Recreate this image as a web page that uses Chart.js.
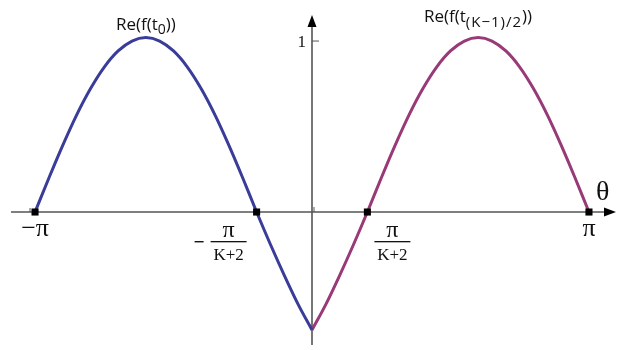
<!DOCTYPE html>
<html lang="en">
<head>
<meta charset="UTF-8">
<title>Re(f(t))</title>
<script src="https://cdn.jsdelivr.net/npm/chart.js"></script>
<style>
    body { margin: 0; padding: 0; background: #fff; }
    #wrap { width: 621px; height: 350px; }
</style>
</head>
<body>
<div id="wrap"><canvas id="chart" width="621" height="350"></canvas></div>
<script>
// theta values (radians) and Re(f)
const thetaLeft = [-3.1416, -2.9845, -2.8274, -2.6704, -2.5133, -2.3562, -2.1991, -2.0420, -1.8850, -1.7279,
                   -1.5708, -1.4137, -1.2566, -1.0996, -0.9425, -0.7854, -0.6283, -0.4712, -0.3142, -0.1571, 0];
const reLeft = [0, 0.199, 0.39, 0.567, 0.721, 0.848, 0.942, 1.0, 1.02, 1.0,
                0.942, 0.848, 0.721, 0.567, 0.39, 0.199, 0, -0.19, -0.37, -0.54, -0.69];

const thetaRight = [0, 0.1571, 0.3142, 0.4712, 0.6283, 0.7854, 0.9425, 1.0996, 1.2566, 1.4137,
                    1.5708, 1.7279, 1.8850, 2.0420, 2.1991, 2.3562, 2.5133, 2.6704, 2.8274, 2.9845, 3.1416];
const reRight = [-0.69, -0.54, -0.37, -0.19, 0, 0.199, 0.39, 0.567, 0.721, 0.848,
                 0.942, 1.0, 1.02, 1.0, 0.942, 0.848, 0.721, 0.567, 0.39, 0.199, 0];

// marked points on the theta axis: -pi, -pi/(K+2), pi/(K+2), pi
const markTheta = [-3.1416, -0.6283, 0.6283, 3.1416];
const yTicks = [1];

const axisColor = '#555';
const serif = '"Liberation Serif", "DejaVu Serif", serif';
const sans = '"Open Sans", "Noto Sans", sans-serif';

const axesPlugin = {
    id: 'axes',
    beforeDatasetsDraw(chart) {
        const ctx = chart.ctx;
        const xs = chart.scales.x, ys = chart.scales.y;
        const x0 = xs.getPixelForValue(0), y0 = ys.getPixelForValue(0);
        ctx.save();
        ctx.strokeStyle = axisColor;
        ctx.fillStyle = '#000';
        ctx.lineWidth = 1.6;
        // x axis
        ctx.beginPath();
        ctx.moveTo(11, y0);
        ctx.lineTo(606, y0);
        ctx.stroke();
        ctx.beginPath();
        ctx.moveTo(616, y0);
        ctx.lineTo(604, y0 - 4.5);
        ctx.lineTo(604, y0 + 4.5);
        ctx.closePath();
        ctx.fill();
        // y axis
        ctx.beginPath();
        ctx.moveTo(x0, 345);
        ctx.lineTo(x0, 24);
        ctx.stroke();
        ctx.beginPath();
        ctx.moveTo(x0, 15);
        ctx.lineTo(x0 - 4.5, 27);
        ctx.lineTo(x0 + 4.5, 27);
        ctx.closePath();
        ctx.fill();
        // small ticks
        ctx.lineWidth = 1;
        yTicks.forEach(v => {
            const py = ys.getPixelForValue(v);
            ctx.beginPath();
            ctx.moveTo(x0, py);
            ctx.lineTo(x0 + 7, py);
            ctx.stroke();
        });
        ctx.beginPath();
        ctx.moveTo(x0 + 2, y0);
        ctx.lineTo(x0 + 2, y0 - 5);
        ctx.moveTo(xs.getPixelForValue(-3.1416) - 5, y0);
        ctx.lineTo(xs.getPixelForValue(-3.1416) - 5, y0 - 4);
        ctx.stroke();
        ctx.restore();
    },
    afterDraw(chart) {
        const ctx = chart.ctx;
        const xs = chart.scales.x, ys = chart.scales.y;
        const x0 = xs.getPixelForValue(0), y0 = ys.getPixelForValue(0);
        ctx.save();
        ctx.fillStyle = '#111';
        ctx.textBaseline = 'alphabetic';

        // -pi and pi
        ctx.font = '26px ' + serif;
        ctx.textAlign = 'center';
        ctx.fillText('\u2212\u03c0', xs.getPixelForValue(markTheta[0]), y0 + 24);
        ctx.fillText('\u03c0', xs.getPixelForValue(markTheta[3]), y0 + 24);

        // fractions
        function fraction(cx, minus) {
            ctx.font = '24px ' + serif;
            ctx.textAlign = 'center';
            ctx.fillText('\u03c0', cx, y0 + 25);
            ctx.fillRect(cx - 18, y0 + 29, 36, 1.3);
            ctx.font = '17px ' + serif;
            ctx.fillText('K+2', cx, y0 + 48);
            if (minus) {
                ctx.fillRect(cx - 34, y0 + 29, 9, 1.4);
            }
        }
        fraction(xs.getPixelForValue(markTheta[1]) - 28, true);
        fraction(xs.getPixelForValue(markTheta[2]) + 25, false);

        // theta
        ctx.font = '28px ' + serif;
        ctx.textAlign = 'left';
        ctx.fillText('\u03b8', 596, y0 - 12);

        // tick label 1
        ctx.font = '17px ' + serif;
        ctx.textAlign = 'right';
        ctx.fillText('1', x0 - 6, ys.getPixelForValue(1) + 6);

        // curve labels
        ctx.textAlign = 'left';
        ctx.font = '17px ' + sans;
        let x = 116;
        ctx.fillText('Re(f(t', x, 30);
        x += ctx.measureText('Re(f(t').width;
        ctx.font = '14px ' + sans;
        ctx.fillText('0', x, 34);
        x += ctx.measureText('0').width;
        ctx.font = '17px ' + sans;
        ctx.fillText('))', x, 30);

        x = 424;
        ctx.fillText('Re(f(t', x, 22);
        x += ctx.measureText('Re(f(t').width;
        ctx.font = '15px ' + sans;
        ctx.letterSpacing = '1px';
        ctx.fillText('(K\u22121)/2', x, 27);
        x += ctx.measureText('(K\u22121)/2').width;
        ctx.letterSpacing = '0px';
        ctx.font = '17px ' + sans;
        ctx.fillText('))', x, 22);
        ctx.restore();
    }
};

new Chart(document.getElementById('chart'), {
    type: 'line',
    data: {
        datasets: [
            {
                label: 'marks',
                data: markTheta.map(t => ({ x: t, y: 0 })),
                showLine: false,
                pointStyle: 'rect',
                pointRadius: 5,
                pointBackgroundColor: '#000',
                pointBorderWidth: 0
            },
            {
                label: 'Re(f(t0))',
                data: thetaLeft.map((t, i) => ({ x: t, y: reLeft[i] })),
                borderColor: '#3a3c9a',
                borderWidth: 3,
                pointRadius: 0,
                tension: 0.4,
                cubicInterpolationMode: 'monotone',
                fill: false
            },
            {
                label: 'Re(f(t(K-1)/2))',
                data: thetaRight.map((t, i) => ({ x: t, y: reRight[i] })),
                borderColor: '#983a78',
                borderWidth: 3,
                pointRadius: 0,
                tension: 0.4,
                cubicInterpolationMode: 'monotone',
                fill: false
            }
        ]
    },
    options: {
        responsive: false,
        animation: false,
        layout: { padding: 0, autoPadding: false },
        plugins: {
            legend: { display: false },
            tooltip: { enabled: false }
        },
        scales: {
            x: { type: 'linear', display: false, min: -3.539, max: 3.505 },
            y: { type: 'linear', display: false, min: -0.807, max: 1.240 }
        }
    },
    plugins: [axesPlugin]
});
</script>
</body>
</html>
